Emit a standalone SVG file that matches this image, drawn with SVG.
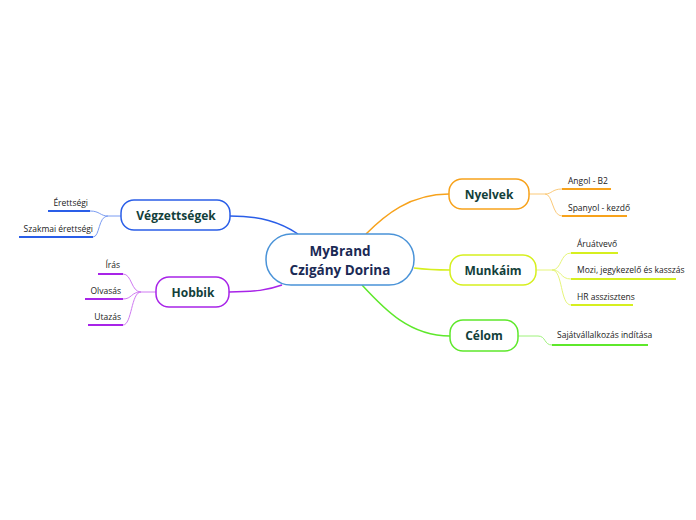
<svg xmlns="http://www.w3.org/2000/svg" width="696" height="520" viewBox="0 0 696 520">
<style>
.node{fill:#fff;stroke-width:1.5}
.t{font-family:"Open Sans","Noto Sans",sans-serif;font-weight:bold;font-size:12px;fill:#12403a;text-anchor:middle}
.c{font-family:"Open Sans","Noto Sans",sans-serif;font-weight:bold;font-size:13.5px;fill:#1b2a55;text-anchor:middle}
.l{font-family:"Open Sans","Noto Sans",sans-serif;font-size:8.5px;fill:#222}
.r{text-anchor:end}
.cn{fill:none}
</style>
<rect width="696" height="520" fill="#fff"/>
<g id="connectors" class="cn">
<path d="M366,234 C385,215 410,194 449,194" stroke="#f7a21b" stroke-width="1.5"/>
<path d="M414,268 C430,270 440,270 450,270" stroke="#d6ef1f" stroke-width="1.5"/>
<path d="M362,285 C385,310 410,336 450,336" stroke="#5ee82b" stroke-width="1.5"/>
<path d="M230,216 C260,216 280,222 298,234" stroke="#2a5ee8" stroke-width="1.5"/>
<path d="M229,292 C255,292 268,290 282,285" stroke="#a824e8" stroke-width="1.5"/>
<g stroke="#fbc978" stroke-width="1">
<path d="M529,194 L545,194 C552,194 552,189 562,189"/>
<path d="M545,194 C553,194 552,216 562,216"/>
</g>
<g stroke="#e6f57a" stroke-width="1">
<path d="M536,270 L552,270 C562,270 560,253 571,253"/>
<path d="M552,270 C562,270 560,279 571,279"/>
<path d="M552,270 C563,270 560,305 571,305"/>
</g>
<path d="M518,336 L538,336 C546,336 544,345 552,345" stroke="#9ef27a" stroke-width="1"/>
<g stroke="#7a9cf2" stroke-width="1">
<path d="M121,216 L108,216 C100,216 100,211 90,211"/>
<path d="M108,216 C98,216 100,237 93,237"/>
</g>
<g stroke="#cf7af2" stroke-width="1">
<path d="M156,292 L141,292 C131,292 132,274 123,274"/>
<path d="M141,292 C131,292 132,299 123,299"/>
<path d="M141,292 C131,292 132,325 123,325"/>
</g>
<g stroke-width="2">
<path d="M562,189 H611" stroke="#f7a21b"/>
<path d="M562,216 H627" stroke="#f7a21b"/>
<path d="M571,253 H618" stroke="#d6ef1f"/>
<path d="M571,279 H676" stroke="#d6ef1f"/>
<path d="M571,305 H633" stroke="#d6ef1f"/>
<path d="M552,345 H648" stroke="#5ee82b"/>
<path d="M48,211 H90" stroke="#2a5ee8"/>
<path d="M19,237 H93" stroke="#2a5ee8"/>
<path d="M98,274 H123" stroke="#a824e8"/>
<path d="M85,299 H123" stroke="#a824e8"/>
<path d="M88,325 H123" stroke="#a824e8"/>
</g>
</g>
<g id="center">
<rect x="266" y="234" width="148" height="51" rx="25" class="node" stroke="#4a93d8"/>
<text x="340" y="256" class="c">MyBrand</text>
<text x="340" y="275" class="c">Czigány Dorina</text>
</g>
<g id="nyelvek">
<rect x="449" y="179" width="80" height="30" rx="13" class="node" stroke="#f7a21b"/>
<text x="489" y="199" class="t">Nyelvek</text>
</g>
<g id="munkaim">
<rect x="450" y="255" width="86" height="30" rx="13" class="node" stroke="#d6ef1f"/>
<text x="493" y="275" class="t">Munkáim</text>
</g>
<g id="celom">
<rect x="450" y="320" width="68" height="31" rx="13" class="node" stroke="#5ee82b"/>
<text x="484" y="340" class="t">Célom</text>
</g>
<g id="vegzettsegek">
<rect x="121" y="200" width="109" height="30" rx="13" class="node" stroke="#2a5ee8"/>
<text x="176" y="220" class="t">Végzettségek</text>
</g>
<g id="hobbik">
<rect x="156" y="277" width="73" height="30" rx="13" class="node" stroke="#a824e8"/>
<text x="193" y="297" class="t">Hobbik</text>
</g>
<g id="leaves">
<text x="568" y="184" class="l">Angol - B2</text>
<text x="568" y="211" class="l">Spanyol - kezdő</text>
<text x="577" y="247" class="l">Áruátvevő</text>
<text x="577" y="273" class="l">Mozi, jegykezelő és kasszás</text>
<text x="577" y="300" class="l">HR asszisztens</text>
<text x="557" y="338" class="l">Sajátvállalkozás indítása</text>
<text x="88" y="206" class="l r">Érettségi</text>
<text x="93" y="232" class="l r">Szakmai érettségi</text>
<text x="120" y="268" class="l r">Írás</text>
<text x="121" y="294" class="l r">Olvasás</text>
<text x="121" y="320" class="l r">Utazás</text>
</g>
</svg>
